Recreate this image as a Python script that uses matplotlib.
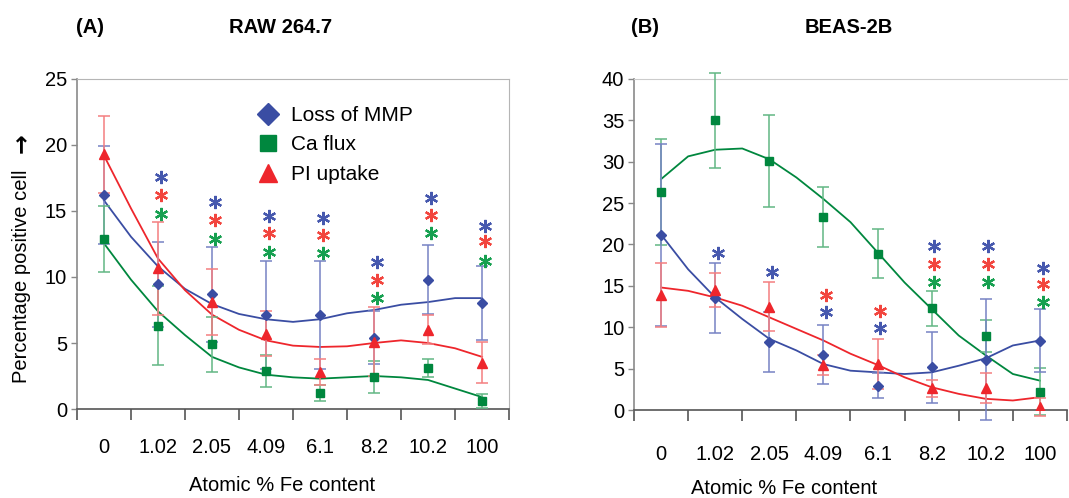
import numpy as np
import matplotlib.pyplot as plt
from matplotlib.lines import Line2D

plt.rcParams['font.family'] = ['Liberation Sans', 'DejaVu Sans']

fe_content = ['0', '1.02', '2.05', '4.09', '6.1', '8.2', '10.2', '100']

# (A) RAW 264.7 - means and error bars
raw_mmp = [16.2, 9.45, 8.7, 7.1, 7.1, 5.4, 9.8, 8.0]
raw_mmp_err = [3.7, 3.2, 3.6, 4.1, 4.1, 2.0, 2.6, 2.8]
raw_ca = [12.9, 6.3, 4.9, 2.9, 1.2, 2.4, 3.1, 0.6]
raw_ca_err = [2.5, 3.0, 2.1, 1.2, 0.6, 1.2, 0.7, 0.5]
raw_pi = [19.3, 10.65, 8.1, 5.7, 2.8, 5.1, 6.0, 3.5]
raw_pi_err = [2.9, 3.5, 2.5, 1.7, 1.0, 2.6, 1.1, 1.55]

# trend curves, read at every half category
raw_mmp_trend = [15.8, 13.05, 10.8, 9.1, 7.95, 7.2, 6.8, 6.6, 6.8, 7.25, 7.5, 7.9, 8.1, 8.4, 8.4]
raw_ca_trend = [12.55, 9.8, 7.4, 5.6, 3.95, 3.15, 2.6, 2.4, 2.3, 2.4, 2.5, 2.4, 2.2, 1.55, 0.9]
raw_pi_trend = [19.2, 15.2, 11.4, 9.0, 7.15, 6.0, 5.2, 4.8, 4.7, 4.75, 5.0, 5.2, 5.0, 4.6, 3.95]

# significance stars (height of each star)
raw_star_mmp = [np.nan, 17.6, 15.65, 14.6, 14.5, 11.1, 16.0, 13.9]
raw_star_pi = [np.nan, 16.2, 14.3, 13.3, 13.2, 9.8, 14.7, 12.7]
raw_star_ca = [np.nan, 14.8, 12.9, 11.9, 11.8, 8.4, 13.3, 11.2]

# (B) BEAS-2B
beas_mmp = [21.2, 13.5, 8.2, 6.7, 2.95, 5.15, 6.1, 8.35]
beas_mmp_err = [11.0, 4.25, 3.65, 3.6, 1.55, 4.3, 7.3, 3.8]
beas_ca = [26.3, 35.0, 30.1, 23.3, 18.9, 12.3, 8.9, 2.2]
beas_ca_err = [6.4, 5.7, 5.6, 3.65, 3.0, 2.1, 1.95, 2.85]
beas_pi = [13.9, 14.5, 12.5, 5.45, 5.55, 2.6, 2.7, 0.4]
beas_pi_err = [3.9, 2.0, 3.0, 1.2, 3.05, 1.0, 1.8, 1.1]

beas_mmp_trend = [21.2, 17.0, 13.6, 11.0, 8.6, 7.2, 5.55, 4.75, 4.55, 4.35, 4.55, 5.35, 6.25, 7.8, 8.4]
beas_ca_trend = [27.9, 30.65, 31.45, 31.6, 30.3, 28.1, 25.5, 22.7, 19.05, 15.4, 12.2, 9.0, 6.6, 4.35, 3.55]
beas_pi_trend = [14.8, 14.4, 13.6, 12.6, 11.2, 9.8, 8.4, 6.8, 5.45, 3.95, 2.75, 1.95, 1.35, 1.15, 1.55]

beas_star_mmp = [np.nan, 19.0, 16.7, 11.9, 9.95, 19.8, 19.8, 17.2]
beas_star_pi = [np.nan, np.nan, np.nan, 13.9, 12.0, 17.7, 17.7, 15.2]
beas_star_ca = [np.nan, np.nan, np.nan, np.nan, np.nan, 15.5, 15.5, 13.0]

blue, green, red = '#3A4DA3', '#00873E', '#EE262C'
blue_e, green_e, red_e = '#7683C4', '#62B784', '#F47E80'
blue_s, green_s, red_s = '#4658AE', '#16A050', '#F2453E'

fig = plt.figure(figsize=(10.69, 4.98), dpi=100)
ax_a = fig.add_axes([0.0720, 0.1787, 0.4042, 0.6627])
ax_b = fig.add_axes([0.5931, 0.1767, 0.4050, 0.6647])

x = np.arange(len(fe_content))
xt = np.arange(2 * len(fe_content) - 1) / 2.0


def draw(ax, series, stars, ymax, pad):
    for vals, err, trend, col, ecol, mk, ms in series:
        ax.plot(xt, trend, color=col, lw=1.3, zorder=2)
        eb = ax.errorbar(x, vals, yerr=err, fmt='none', ecolor=ecol, elinewidth=1.1,
                         capsize=4, capthick=1.1, zorder=3)
        for part in eb.lines[1] + eb.lines[2]:
            part.set_clip_on(False)
        ax.plot(x, vals, linestyle='none', marker=mk, ms=ms, color=col, zorder=4)
    for s, col in stars:
        ax.plot(x + 0.05, s, linestyle='none', marker=(6, 2, 0), ms=9.5,
                mew=1.6, color=col, zorder=5)
    ax.set_xlim(-0.5, len(fe_content) - 0.5)
    ax.set_ylim(0, ymax)
    ax.set_yticks(np.arange(0, ymax + 1, 5))
    ax.set_xticks(x)
    ax.set_xticklabels(fe_content)
    ax.set_xticks(np.arange(len(fe_content) + 1) - 0.5, minor=True)
    ax.tick_params(axis='x', which='major', length=0, pad=pad, labelsize=14.5)
    ax.tick_params(axis='x', which='minor', length=8, width=1.2, color='#555555')
    ax.tick_params(axis='y', length=4, width=1, color='#888888', labelsize=14.5, pad=3)
    ax.spines['bottom'].set_color('#555555')
    ax.spines['bottom'].set_linewidth(1.2)
    ax.spines['left'].set_color('#8a8a8a')
    ax.spines['left'].set_linewidth(1.2)
    ax.spines['top'].set_color('#b5b5b5')
    ax.spines['right'].set_color('#b5b5b5')


draw(ax_a,
     [(raw_mmp, raw_mmp_err, raw_mmp_trend, blue, blue_e, 'D', 5),
      (raw_ca, raw_ca_err, raw_ca_trend, green, green_e, 's', 5.5),
      (raw_pi, raw_pi_err, raw_pi_trend, red, red_e, '^', 6.5)],
     [(raw_star_mmp, blue_s), (raw_star_pi, red_s), (raw_star_ca, green_s)],
     25, 21)
draw(ax_b,
     [(beas_ca, beas_ca_err, beas_ca_trend, green, green_e, 's', 5.5),
      (beas_mmp, beas_mmp_err, beas_mmp_trend, blue, blue_e, 'D', 5),
      (beas_pi, beas_pi_err, beas_pi_trend, red, red_e, '^', 6.5)],
     [(beas_star_mmp, blue_s), (beas_star_pi, red_s), (beas_star_ca, green_s)],
     40, 25)
ax_b.spines['right'].set_visible(False)
ax_b.spines['top'].set_color('#cccccc')

handles = [Line2D([], [], linestyle='none', marker='D', ms=11, color=blue),
           Line2D([], [], linestyle='none', marker='s', ms=12, color=green),
           Line2D([], [], linestyle='none', marker='^', ms=13, color=red)]
ax_a.legend(handles, ['Loss of MMP', 'Ca flux', 'PI uptake'], loc='upper left',
            bbox_to_anchor=(0.37, 0.975), frameon=False, fontsize=15,
            handletextpad=0.5, labelspacing=0.5, handlelength=1.2)

fig.text(0.084, 0.945, '(A)', fontsize=14.5, fontweight='bold', ha='center', va='center')
fig.text(0.262, 0.945, 'RAW 264.7', fontsize=14.5, fontweight='bold', ha='center', va='center')
fig.text(0.603, 0.945, '(B)', fontsize=14.5, fontweight='bold', ha='center', va='center')
fig.text(0.794, 0.945, 'BEAS-2B', fontsize=14.5, fontweight='bold', ha='center', va='center')
fig.text(0.264, 0.026, 'Atomic % Fe content', fontsize=14.5, ha='center', va='center')
fig.text(0.733, 0.020, 'Atomic % Fe content', fontsize=14.5, ha='center', va='center')
fig.text(0.020, 0.445, 'Percentage positive cell', fontsize=14.5,
         rotation=90, ha='center', va='center')
fig.text(0.019, 0.712, '\u2192', fontsize=17, fontweight='bold', family=['DejaVu Sans'],
         rotation=90, ha='center', va='center')

fig.savefig('out.png', dpi=100)
